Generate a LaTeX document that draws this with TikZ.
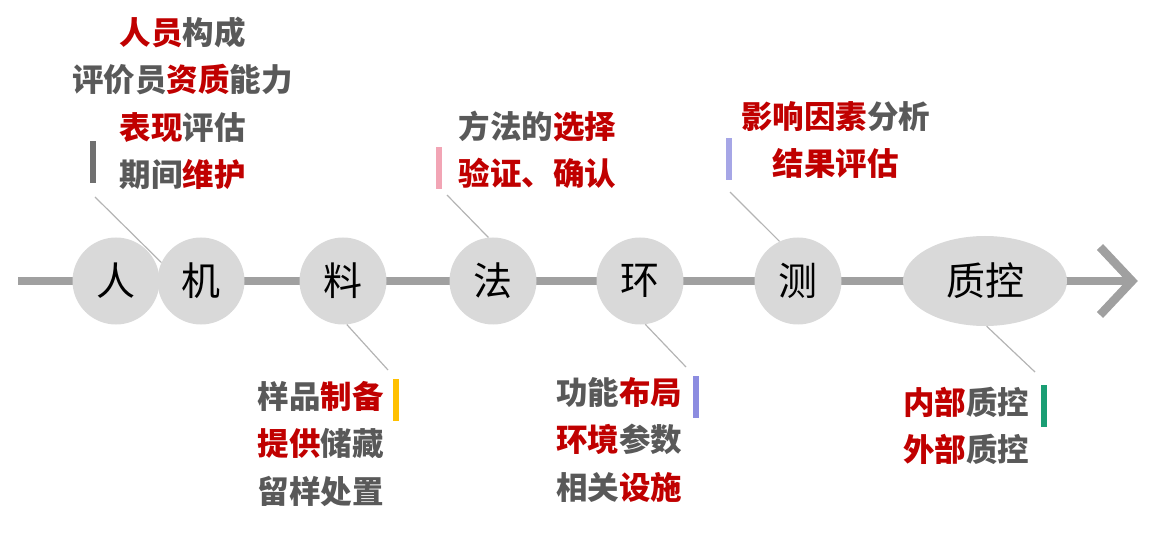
\documentclass[tikz,border=0pt]{standalone}
\usepackage{fontspec}
\setmainfont{Noto Sans CJK SC}
\usepackage{tikz}
\usetikzlibrary{shapes.geometric, positioning}
\definecolor{kred}{HTML}{C00000}
\definecolor{kgray}{HTML}{595959}
\definecolor{axisgray}{HTML}{A0A0A0}
\definecolor{ballgray}{HTML}{D9D9D9}
\definecolor{conngray}{HTML}{B4B4B4}
\definecolor{bardark}{HTML}{707070}
\definecolor{baryellow}{HTML}{FFC000}
\definecolor{barpink}{HTML}{F2A5B5}
\definecolor{barblue}{HTML}{8C8CE0}
\definecolor{barlav}{HTML}{A6A6E6}
\definecolor{bargreen}{HTML}{1A9E74}
\tikzstyle{axis} = [line width=8.5pt, draw=axisgray]
\tikzstyle{ball} = [circle, fill=ballgray, inner sep=0pt, minimum size=87pt, font=\fontsize{39}{40}\selectfont]
\tikzstyle{item} = [inner sep=0pt, text height=28pt, text depth=5pt, text=kgray, font=\bfseries\fontsize{31.5}{33}\selectfont]
\tikzstyle{bar} = [rectangle, inner sep=0pt, minimum width=6pt, minimum height=42pt]
\tikzstyle{conn} = [line width=1.2pt, draw=conngray]
\begin{document}
\begin{tikzpicture}[x=1pt, y=-1pt]
\useasboundingbox (0,0) rectangle (1159,553);

\coordinate (start) at (18,281);
\coordinate (tip) at (1126,281);
\coordinate (c1) at (1100,247);
\coordinate (c2) at (1132,281);
\coordinate (c3) at (1100,315);
\draw [axis] (start) -- (tip);
\draw [axis, line join=miter] (c1) -- (c2) -- (c3);

\node [ball] (ren) at (116,281) {人};
\node [ball] (ji) at (201,281) {机};
\node [ball] (liao) at (343,281) {料};
\node [ball] (fa) at (493,281) {法};
\node [ball] (huan) at (640,281) {环};
\node [ball] (ce) at (798,281) {测};
\node [ellipse, fill=ballgray, inner sep=0pt, minimum width=164pt, minimum height=90pt, font=\fontsize{39}{40}\selectfont] (zk) at (985,281) {质控};

\coordinate (e1) at (95,197);
\coordinate (e2) at (388,370);
\coordinate (e3) at (447,195);
\coordinate (e4) at (686,367);
\coordinate (e5) at (730,192);
\coordinate (e6) at (1035,372);

\draw [conn] (ji.155) to (e1);
\draw [conn] (liao.-85) to (e2);
\draw [conn] (fa.96) to (e3);
\draw [conn] (huan.-83) to (e4);
\draw [conn] (ce.115) to (e5);
\draw [conn] (zk.-88) to (e6);

\node [bar, fill=bardark] (b1) at (93,162.5) {};
\node [bar, fill=baryellow] (b2) at (396,399.5) {};
\node [bar, fill=barpink] (b3) at (438.5,168) {};
\node [bar, fill=barblue] (b4) at (696,396.5) {};
\node [bar, fill=barlav] (b5) at (729,159.5) {};
\node [bar, fill=bargreen] (b6) at (1044,405.5) {};

% ren / ji
\node [item] (t1a) at (182.5,33) {{\color{kred}人员}构成};
\node [item] (t1b) [below=14pt of t1a] {评价员{\color{kred}资质}能力};
\node [item] (t1c) [below=14pt of t1b] {{\color{kred}表现}评估};
\node [item] (t1d) [below=14pt of t1c] {期间{\color{kred}维护}};

% liao
\node [item] (t2a) at (320.5,397) {样品{\color{kred}制备}};
\node [item] (t2b) [below=14pt of t2a] {{\color{kred}提供}储藏};
\node [item] (t2c) [below=14pt of t2b] {留样处置};

% fa
\node [item] (t3a) at (537.5,127) {方法的{\color{kred}选择}};
\node [item] (t3b) [below=14pt of t3a] {{\color{kred}验证、确认}};

% huan
\node [item] (t4a) at (619,393) {功能{\color{kred}布局}};
\node [item] (t4b) [below=14pt of t4a] {{\color{kred}环境}参数};
\node [item] (t4c) [below=14pt of t4b] {相关{\color{kred}设施}};

% ce
\node [item] (t5a) at (835.5,117) {{\color{kred}影响因素}分析};
\node [item] (t5b) [below=14pt of t5a] {{\color{kred}结果评估}};

% zk
\node [item] (t6a) at (966,403) {{\color{kred}内部}质控};
\node [item] (t6b) [below=14pt of t6a] {{\color{kred}外部}质控};
\end{tikzpicture}
\end{document}
